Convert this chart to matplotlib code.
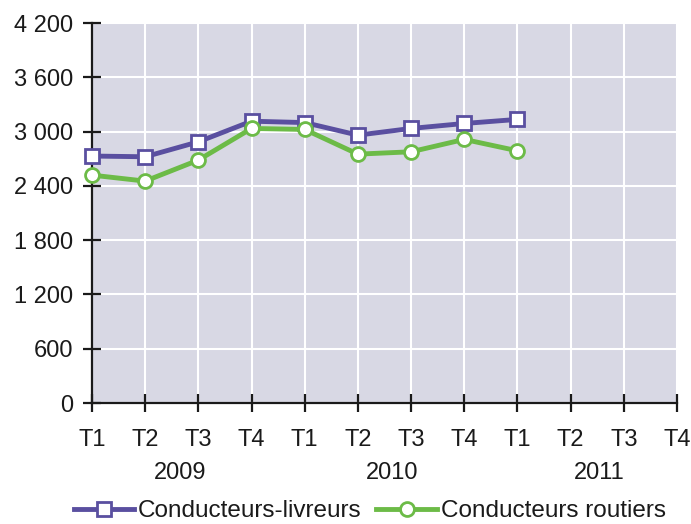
import numpy as np
import matplotlib.pyplot as plt

plt.rcParams['font.family'] = ['Liberation Sans', 'DejaVu Sans']

quarters = ['T1', 'T2', 'T3', 'T4'] * 3
years = ['2009', '2010', '2011']
livreurs = [2730, 2722, 2887, 3115, 3100, 2961, 3035, 3090, 3135]
routiers = [2519, 2453, 2685, 3035, 3024, 2751, 2777, 2914, 2788]
y_ticks = [0, 600, 1200, 1800, 2400, 3000, 3600, 4200]

purple = '#5a4fa0'
green = '#6cbb47'
fs = 17

fig = plt.figure(figsize=(6.91, 5.24), dpi=100)
ax = fig.add_axes([0.1331, 0.2309, 0.9797 - 0.1331, 0.956 - 0.2309])
ax.set_facecolor('#d8d8e4')

x = np.arange(len(quarters))
ax.plot(x[:len(livreurs)], livreurs, color=purple, lw=3.5, marker='s', ms=10,
        mfc='white', mec=purple, mew=2, label='Conducteurs-livreurs',
        zorder=3, clip_on=False)
ax.plot(x[:len(routiers)], routiers, color=green, lw=3.5, marker='o', ms=10,
        mfc='white', mec=green, mew=2, label='Conducteurs routiers',
        zorder=3, clip_on=False)

ax.set_xlim(0, len(quarters) - 1)
ax.set_ylim(0, 4200)
ax.set_xticks(x)
ax.set_xticklabels(quarters)
ax.set_yticks(y_ticks)
ax.set_yticklabels([f"{v:,}".replace(',', ' ') for v in y_ticks])

ax.grid(True, color='white', lw=1.5)
ax.set_axisbelow(True)
for s in ['top', 'right']:
    ax.spines[s].set_visible(False)
for s in ['left', 'bottom']:
    ax.spines[s].set_linewidth(1.6)
    ax.spines[s].set_color('#1a1a1a')
ax.tick_params(axis='both', direction='inout', length=13, width=1.6,
               labelsize=fs, colors='#1a1a1a')
ax.tick_params(axis='y', pad=7)
ax.tick_params(axis='x', pad=12)

# year labels under the quarters
year_pos = [1.65, 5.64, 9.53]
for pos, yr in zip(year_pos, years):
    ax.text(pos, -0.184, yr, transform=ax.get_xaxis_transform(),
            ha='center', va='center', fontsize=fs, color='#1a1a1a')

leg = fig.legend(loc='center', bbox_to_anchor=(0.535, 0.024), ncol=2,
                 frameon=False, fontsize=17.5, handlelength=2.5,
                 columnspacing=0.6, handletextpad=0.15, borderpad=0.2)
for t in leg.get_texts():
    t.set_color('#1a1a1a')

fig.savefig('out.png', dpi=100)
